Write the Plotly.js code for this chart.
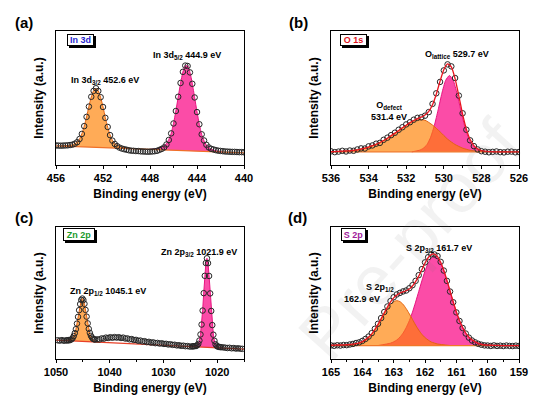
<!DOCTYPE html>
<html><head><meta charset="utf-8">
<script src="https://cdn.plot.ly/plotly-3.0.1.min.js"></script>
<style>html,body{margin:0;padding:0;background:#fff}#chart{width:544px;height:398px}</style>
</head><body><div id="chart"></div>
<script>
// ---------- (a) In 3d ----------
const aE = [456.0,455.8,455.6,455.4,455.2,455.0,454.8,454.6,454.4,454.2,454.0,453.8,453.6,453.4,453.2,453.0,452.8,452.6,452.4,452.2,452.0,451.8,451.6,451.4,451.2,451.0,450.8,450.6,450.4,450.2,450.0,449.8,449.6,449.4,449.2,449.0,448.8,448.6,448.4,448.2,448.0,447.8,447.6,447.4,447.2,447.0,446.8,446.6,446.4,446.2,446.0,445.8,445.6,445.4,445.2,445.0,444.8,444.6,444.4,444.2,444.0,443.8,443.6,443.4,443.2,443.0,442.8,442.6,442.4,442.2,442.0,441.8,441.6,441.4,441.2,441.0,440.8,440.6,440.4,440.2,440.0];
const aData = [14.6,14.5,14.4,14.5,14.6,14.7,14.9,15.2,15.9,17.0,19.4,23.2,29.0,35.9,43.6,50.9,55.3,57.3,55.2,50.6,43.3,35.2,28.4,22.3,18.2,15.7,14.1,13.0,12.3,11.8,11.4,11.0,10.7,10.6,10.4,10.4,10.2,10.1,10.0,9.9,10.0,10.1,10.3,10.6,11.3,12.0,13.1,15.3,18.7,23.6,31.0,40.3,50.9,61.2,69.5,74.2,73.9,69.1,60.6,50.4,39.5,30.4,22.9,18.3,15.1,13.1,12.1,11.6,11.1,10.7,10.5,10.3,10.1,10.0,9.9,9.8,9.8,9.7,9.6,9.6,9.5];
const aBaseE = [456, 440];
const aBaseI = [14.3, 9.0];
const aOrangeE = [455.6,455.0,454.6,454.2,454.0,453.8,453.6,453.4,453.2,453.0,452.8,452.6,452.4,452.2,452.0,451.8,451.6,451.4,451.2,451.0,450.6,450.2,449.6];
const aOrangeI = [14.15,14.55,15.1,17.0,19.3,23.3,28.9,35.8,43.8,50.7,55.4,57.2,55.3,50.4,43.4,35.3,28.2,22.5,18.4,15.9,13.8,13.0,12.17];
const aPinkE = [448.0,447.4,447.0,446.6,446.4,446.2,446.0,445.8,445.6,445.4,445.2,445.0,444.8,444.6,444.4,444.2,444.0,443.8,443.6,443.4,443.2,442.8,442.4,441.8];
const aPinkI = [11.64,12.2,13.2,16.0,19.1,23.6,31.0,40.3,50.7,61.1,69.4,74.0,74.0,69.2,60.8,50.3,39.7,30.3,22.8,18.1,14.9,11.8,10.6,9.59];

// ---------- (b) O 1s ----------
const bE = [536.0,535.8,535.6,535.4,535.2,535.0,534.8,534.6,534.4,534.2,534.0,533.8,533.6,533.4,533.2,533.0,532.8,532.6,532.4,532.2,532.0,531.8,531.6,531.4,531.2,531.0,530.8,530.6,530.4,530.2,530.0,529.8,529.6,529.4,529.2,529.0,528.8,528.6,528.4,528.2,528.0,527.8,527.6,527.4,527.2,527.0,526.8,526.6,526.4,526.2,526.0];
const bData = [10.2,9.6,10.0,10.6,10.1,10.8,10.6,11.6,12.4,12.3,13.9,14.6,15.9,16.5,18.8,20.4,22.3,24.1,26.3,28.2,30.3,31.9,33.8,35.2,35.6,36.8,39.5,45.6,53.5,62.0,70.6,75.1,73.6,64.9,51.8,38.6,26.3,18.4,14.1,11.6,10.3,9.9,9.5,9.8,10.1,9.6,9.4,9.9,10.0,9.5,9.7];
const bEnvelope = [9.9,10.0,10.2,10.4,10.5,10.6,10.9,11.3,11.9,12.6,13.4,14.4,15.5,16.8,18.3,20.0,21.9,23.8,25.8,27.8,29.7,31.6,33.2,34.6,35.7,37.3,40.0,44.9,52.8,62.5,71.1,75.4,73.2,64.4,51.5,38.0,26.8,19.0,14.5,12.0,10.8,10.3,10.0,9.9,9.8,9.8,9.8,9.8,9.8,9.8,9.8];
const bBaseE = [536, 526];
const bBaseI = [9.8, 9.8];
const bOrangeE = [535.4,535.0,534.6,534.2,533.8,533.4,533.0,532.6,532.2,531.8,531.4,531.0,530.6,530.2,529.8,529.4,529.0,528.6,528.2,527.8];
const bOrangeI = [9.8,10.6,11.3,12.6,14.4,16.8,20.0,23.8,27.8,31.4,33.8,33.4,29.8,24.8,19.3,15.3,12.6,11.0,10.2,9.8];
const bPinkE = [531.7,531.3,531.1,530.9,530.7,530.5,530.3,530.1,529.9,529.7,529.5,529.3,529.1,528.9,528.7,528.5,528.3,528.1,527.7];
const bPinkI = [9.8,11.0,12.4,15.1,20.7,29.6,41.2,53.6,63.2,66.8,63.2,53.6,41.2,29.6,20.7,15.1,12.4,11.0,9.8];

// ---------- (c) Zn 2p ----------
const cE = [1049.7,1049.3,1048.9,1048.5,1048.1,
1047.9,1047.7,1047.5,1047.3,1047.1,1046.9,1046.7,1046.5,1046.3,1046.1,1045.9,1045.7,1045.5,1045.3,1045.1,1044.9,1044.7,1044.5,1044.3,1044.1,1043.9,1043.7,1043.5,1043.3,1043.1,1042.9,1042.7,
1042.3,1041.9,1041.5,1041.1,1040.7,1040.3,1039.9,1039.5,1039.1,1038.7,1038.3,1037.9,1037.5,1037.1,1036.7,1036.3,1035.9,1035.5,1035.1,1034.7,1034.3,1033.9,1033.5,1033.1,1032.7,1032.3,1031.9,1031.5,1031.1,1030.7,1030.3,1029.9,1029.5,1029.1,1028.7,1028.3,1027.9,1027.5,1027.1,1026.7,1026.3,1025.9,1025.5,1025.1,1024.7,
1024.5,1024.3,1024.1,1023.9,1023.7,1023.5,1023.3,1023.1,1022.9,1022.7,1022.5,1022.3,1022.1,1021.9,1021.7,1021.5,1021.3,1021.1,1020.9,1020.7,1020.5,1020.3,1020.1,1019.9,1019.7,1019.5,1019.3,
1018.9,1018.5,1018.1,1017.7,1017.3,1016.9,1016.5,1016.1,1015.7,1015.3];
const cData = [14.2,13.9,14.3,13.8,14.2,
14.0,14.3,14.2,14.5,15.0,15.8,17.4,19.6,22.6,26.8,31.9,37.0,41.6,44.8,45.8,44.7,41.8,37.2,32.1,27.0,22.8,19.8,17.6,16.2,15.3,14.9,14.7,
14.9,14.8,15.6,15.4,16.2,15.9,16.5,16.1,16.6,16.2,16.5,15.9,16.2,15.5,15.6,14.9,15.1,14.4,14.5,13.8,14.0,13.3,13.5,12.8,13.0,12.4,12.6,12.0,12.2,11.7,11.9,11.4,11.5,11.0,11.2,10.7,10.8,10.3,10.4,10.0,10.1,9.7,9.8,9.4,9.5,
9.6,9.7,9.8,9.9,10.4,11.5,14.0,18.6,26.1,36.7,49.9,63.0,72.7,76.3,72.6,62.9,49.7,36.4,25.7,18.4,13.8,11.2,10.0,9.4,9.2,9.1,8.9,
8.8,8.6,8.3,8.5,8.1,8.3,7.9,8.1,7.8,7.7];
const cBaseE = [1050, 1015];
const cBaseI = [14.25, 7.5];
const cOrangeE = [1048.3,1047.5,1047.1,1046.7,1046.5,1046.3,1046.1,1045.9,1045.7,1045.5,1045.3,1045.1,1044.9,1044.7,1044.5,1044.3,1044.1,1043.9,1043.7,1043.5,1043.1,1042.7,1041.9];
const cOrangeI = [13.93,14.3,15.0,17.3,19.6,22.5,26.8,31.9,37.0,41.6,44.8,45.8,44.7,41.4,36.8,31.6,26.4,22.1,19.0,16.7,14.2,13.4,12.69];
const cPinkE = [1024.9,1024.1,1023.7,1023.5,1023.3,1023.1,1022.9,1022.7,1022.5,1022.3,1022.1,1021.9,1021.7,1021.5,1021.3,1021.1,1020.9,1020.7,1020.5,1020.3,1020.1,1019.7,1018.9];
const cPinkI = [9.41,9.8,10.4,11.5,14.0,18.6,26.1,36.7,49.9,63.0,72.7,76.3,72.6,62.9,49.7,36.4,25.7,18.1,13.5,10.9,9.7,8.9,8.25];

// ---------- (d) S 2p ----------
const dE = [165.0,164.9,164.8,164.7,164.6,164.5,164.4,164.3,164.2,164.1,164.0,163.9,163.8,163.7,163.6,163.5,163.4,163.3,163.2,163.1,163.0,162.9,162.8,162.7,162.6,162.5,162.4,162.3,162.2,162.1,162.0,161.9,161.8,161.7,161.6,161.5,161.4,161.3,161.2,161.1,161.0,160.9,160.8,160.7,160.6,160.5,160.4,160.3,160.2,160.1,160.0,159.9,159.8,159.7,159.6,159.5,159.4,159.3,159.2,159.1,159.0];
const dData = [10.3,10.0,10.4,10.2,10.6,10.5,11.0,11.4,12.1,12.6,13.7,15.2,17.0,19.6,22.9,26.7,31.0,35.6,39.8,43.9,46.8,48.9,50.1,51.2,51.9,53.6,55.9,59.2,63.5,68.1,73.2,77.1,79.3,79.2,78.0,73.6,67.0,59.2,51.1,43.0,35.3,28.8,23.5,19.3,16.2,14.0,12.6,11.5,10.8,10.3,10.2,9.9,10.3,9.9,10.1,9.8,10.2,9.9,9.8,10.1,9.9];
const dEnvelope = [10.4,10.5,10.6,10.6,10.7,10.8,11.0,11.2,11.6,12.3,13.2,14.7,16.6,19.1,22.4,26.2,30.6,35.0,39.3,43.2,46.3,48.4,49.9,50.8,51.7,53.0,55.3,58.6,62.8,67.7,72.6,76.7,79.1,79.5,77.6,73.3,67.2,59.6,51.5,43.4,35.8,29.2,24.0,19.7,16.7,14.5,13.1,11.8,11.1,10.7,10.5,10.4,10.3,10.3,10.2,10.2,10.2,10.2,10.2,10.2,10.2];
const dBaseE = [165, 159];
const dBaseI = [10.2, 10.2];
const dOrangeE = [164.6,164.2,164.0,163.9,163.8,163.7,163.6,163.5,163.4,163.3,163.2,163.1,163.0,162.9,162.8,162.7,162.6,162.5,162.4,162.3,162.2,162.1,162.0,161.9,161.8,161.6,161.2];
const dOrangeI = [10.2,11.4,12.9,14.4,16.2,18.7,21.9,25.7,30.0,34.2,38.1,41.4,43.5,44.2,43.5,41.4,38.1,34.2,30.0,25.7,21.9,18.7,16.2,14.4,12.9,11.4,10.2];
const dPinkE = [163.5,163.1,163.0,162.9,162.8,162.7,162.6,162.5,162.4,162.3,162.2,162.1,162.0,161.9,161.8,161.7,161.6,161.5,161.4,161.3,161.2,161.1,161.0,160.9,160.8,160.7,160.6,160.5,160.4,160.3,159.9];
const dPinkI = [10.2,12.0,13.0,14.4,16.6,19.6,23.8,29.0,35.5,43.1,51.1,59.2,66.6,72.5,76.4,77.7,76.4,72.5,66.6,59.2,51.1,43.1,35.5,29.0,23.8,19.6,16.6,14.4,13.0,12.0,10.2];

// ---------- drawing ----------
const W = 544, H = 398;
const FONT = '"Liberation Sans", Arial, Helvetica, sans-serif';
const px = v => v / W;
const py = v => 1 - v / H;
const ORANGE_FILL = 'rgba(255,128,0,0.66)';
const PINK_FILL = 'rgba(250,0,130,0.70)';

function panelTraces(sfx, E, data, baseE, baseI, oE, oI, pE, pI, env, baseColor, shape) {
  const xa = 'x' + sfx, ya = 'y' + sfx;
  const tr = [];
  tr.push({x: pE, y: pI, xaxis: xa, yaxis: ya, mode: 'lines', fill: 'toself', fillcolor: PINK_FILL,
           line: {color: 'rgb(232,20,128)', width: 1, shape: shape, smoothing: 0.6}, hoverinfo: 'skip', showlegend: false});
  tr.push({x: oE, y: oI, xaxis: xa, yaxis: ya, mode: 'lines', fill: 'toself', fillcolor: ORANGE_FILL,
           line: {color: 'rgb(226,100,20)', width: 1, shape: shape, smoothing: 0.6}, hoverinfo: 'skip', showlegend: false});
  tr.push({x: baseE, y: baseI, xaxis: xa, yaxis: ya, mode: 'lines',
           line: {color: baseColor, width: 1.3}, hoverinfo: 'skip', showlegend: false});
  tr.push({x: E, y: data, xaxis: xa, yaxis: ya, mode: 'markers',
           marker: {symbol: 'circle-open', size: 5.5, color: '#262626', line: {width: 1}}, hoverinfo: 'skip', showlegend: false});
  if (env) {
    tr.push({x: E, y: env, xaxis: xa, yaxis: ya, mode: 'lines',
             line: {color: 'rgb(232,20,30)', width: 1.3, shape: 'spline', smoothing: 0.6}, hoverinfo: 'skip', showlegend: false});
  }
  return tr;
}

const traces = [].concat(
  panelTraces('', aE, aData, aBaseE, aBaseI, aOrangeE, aOrangeI, aPinkE, aPinkI, null, 'rgb(240,112,40)', 'spline'),
  panelTraces('2', bE, bData, bBaseE, bBaseI, bOrangeE, bOrangeI, bPinkE, bPinkI, bEnvelope, 'rgb(240,120,40)', 'spline'),
  panelTraces('3', cE, cData, cBaseE, cBaseI, cOrangeE, cOrangeI, cPinkE, cPinkI, null, 'rgb(232,64,40)', 'linear'),
  panelTraces('4', dE, dData, dBaseE, dBaseI, dOrangeE, dOrangeI, dPinkE, dPinkI, dEnvelope, 'rgb(240,120,40)', 'spline')
);

function xAxis(domain, range, tick0, dtick, minorDtick, anchor) {
  return {
    domain: domain, range: range, anchor: anchor, tick0: tick0, dtick: dtick,
    showline: true, mirror: true, linecolor: '#000', linewidth: 1,
    ticks: 'outside', ticklen: 3, tickwidth: 1, tickcolor: '#000',
    minor: {tick0: tick0, dtick: minorDtick, ticks: 'outside', ticklen: 2, tickcolor: '#000', showgrid: false},
    showgrid: false, zeroline: false,
    tickfont: {family: FONT, size: 11, color: '#000', weight: 'bold'},
    title: {text: 'Binding energy (eV)', font: {family: FONT, size: 12, color: '#000', weight: 'bold'}, standoff: 6}
  };
}
function yAxis(domain, anchor) {
  return {
    domain: domain, range: [0, 100], anchor: anchor,
    showline: true, mirror: true, linecolor: '#000', linewidth: 1,
    ticks: '', showticklabels: false, showgrid: false, zeroline: false,
    title: {text: 'Intensity (a.u.)', font: {family: FONT, size: 12, color: '#000', weight: 'bold'}, standoff: 8}
  };
}

const xL = [px(56), px(244)], xR = [px(331), px(519)];
const yT = [py(165), py(31)], yB = [py(359), py(227)];

function label(text, cx, cy, size, extra) {
  return Object.assign({xref: 'paper', yref: 'paper', x: px(cx), y: py(cy), text: text, showarrow: false,
    xanchor: 'center', yanchor: 'middle',
    font: {family: FONT, size: size, color: '#000', weight: 'bold'}}, extra || {});
}
// framed panel tag with a black drop shadow (shadow is an empty box)
function boxLabel(text, color, cx, cy, w, h) {
  const common = {xref: 'paper', yref: 'paper', x: px(cx), y: py(cy), showarrow: false,
    xanchor: 'center', yanchor: 'middle', borderwidth: 1, borderpad: 0, bordercolor: '#000', width: w, height: h, align: 'center', valign: 'middle'};
  return [
    Object.assign({}, common, {text: ' ', bgcolor: '#000', font: {family: FONT, size: 2, color: '#000'}, xshift: 2, yshift: -2}),
    Object.assign({}, common, {text: text, bgcolor: '#fff', font: {family: FONT, size: 9, color: color, weight: 'bold'}})
  ];
}

const annotations = [].concat(
  [label('(a)', 24, 23, 15), label('(b)', 298, 22, 15), label('(c)', 24, 217, 15), label('(d)', 297, 217, 15)],
  boxLabel('In 3d', '#1f1fd0', 80.5, 40.5, 25, 10),
  boxLabel('O 1s', '#e0141e', 353.5, 40, 25, 10),
  boxLabel('Zn 2p', '#1a9a2a', 79, 234.5, 30, 11),
  boxLabel('S 2p', '#a0209a', 353.5, 234, 23, 11),
  [
    label('In 3d<sub>3/2</sub> 452.6 eV', 104.7, 81, 9),
    label('In 3d<sub>5/2</sub> 444.9 eV', 187, 56, 9),
    label('O<sub>lattice</sub> 529.7 eV', 457, 55, 9),
    label('O<sub>defect</sub><br>531.4 eV', 389, 111, 9),
    label('Zn 2p<sub>1/2</sub> 1045.1 eV', 107.5, 291, 9),
    label('Zn 2p<sub>3/2</sub> 1021.9 eV', 199, 252, 9),
    label('S 2p<sub>3/2</sub> 161.7 eV', 439, 248, 9),
    label('S 2p<sub>1/2</sub>', 380, 287, 9),
    label('162.9 eV', 362, 299, 9),
    {xref: 'paper', yref: 'paper', x: px(410), y: py(240), text: 'Pre-proof', showarrow: false,
     xanchor: 'center', yanchor: 'middle', textangle: -48,
     font: {family: FONT, size: 70, color: 'rgba(110,110,110,0.09)'}}
  ]
);

const layout = {
  width: W, height: H, margin: {l: 0, r: 0, t: 0, b: 0},
  paper_bgcolor: '#fff', plot_bgcolor: 'rgba(0,0,0,0)', showlegend: false,
  font: {family: FONT, color: '#000'},
  xaxis: xAxis(xL, [456, 440], 440, 4, 2, 'y'),
  yaxis: yAxis(yT, 'x'),
  xaxis2: xAxis(xR, [536, 526], 526, 2, 1, 'y2'),
  yaxis2: yAxis(yT, 'x2'),
  xaxis3: xAxis(xL, [1050, 1015], 1020, 10, 5, 'y3'),
  yaxis3: yAxis(yB, 'x3'),
  xaxis4: xAxis(xR, [165, 159], 159, 1, 0.5, 'y4'),
  yaxis4: yAxis(yB, 'x4'),
  annotations: annotations
};

Plotly.newPlot('chart', traces, layout, {staticPlot: true, displayModeBar: false});
</script>
</body></html>
